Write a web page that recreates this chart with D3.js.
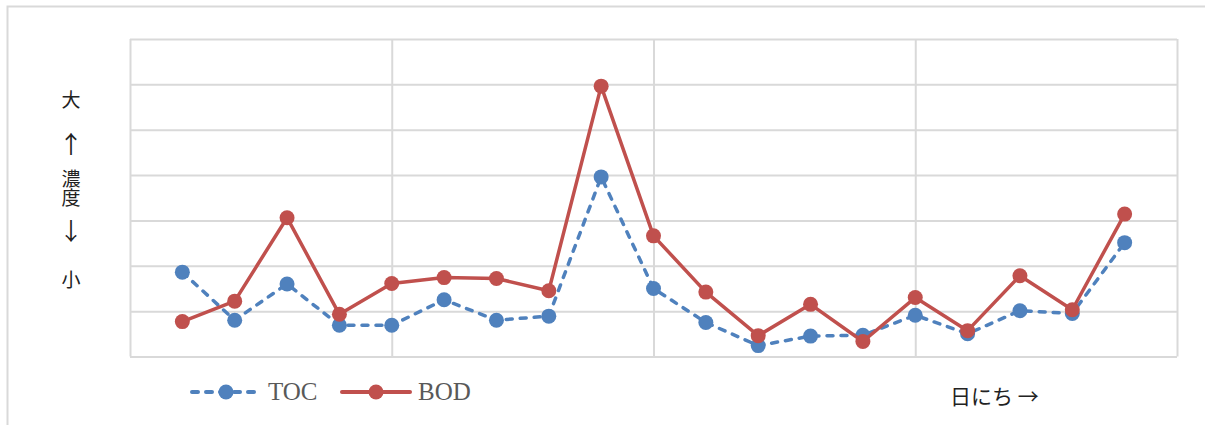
<!DOCTYPE html>
<html>
<head>
<meta charset="utf-8">
<script src="https://cdn.jsdelivr.net/npm/d3@7"></script>
<style>
  body { margin: 0; background: #fff; }
  svg { display: block; }
</style>
</head>
<body>
<script>
// Data (relative concentration)
const days = [1, 2, 3, 4, 5, 6, 7, 8, 9, 10, 11, 12, 13, 14, 15, 16, 17, 18, 19];
const toc = [1.86, 0.80, 1.60, 0.69, 0.69, 1.25, 0.80, 0.89, 3.96, 1.50, 0.75, 0.24, 0.45, 0.47, 0.91, 0.50, 1.01, 0.95, 2.51];
const bod = [0.77, 1.22, 3.06, 0.93, 1.61, 1.74, 1.72, 1.45, 5.96, 2.66, 1.42, 0.46, 1.15, 0.33, 1.30, 0.57, 1.78, 1.03, 3.14];
const xTicks = [0, 5, 10, 15, 20];
const yTicks = [0, 1, 2, 3, 4, 5, 6, 7];
const seriesNames = ["TOC", "BOD"];

const W = 1205, H = 425;
const svg = d3.select("body").append("svg")
    .attr("width", W)
    .attr("height", H);

// outer chart border
svg.append("rect")
    .attr("x", 7.5).attr("y", 6.5)
    .attr("width", W + 10).attr("height", H + 10)
    .attr("fill", "#fff")
    .attr("stroke", "#d9d9d9")
    .attr("stroke-width", 2);

const plot = { left: 130, top: 39, right: 1177, bottom: 356.5 };

const x = d3.scaleLinear()
    .domain([0, 20])
    .range([plot.left, plot.right]);

const y = d3.scaleLinear()
    .domain([0, 7])
    .range([plot.bottom, plot.top]);

const grid = svg.append("g").attr("class", "grid");

// horizontal grid
grid.append("g")
    .attr("transform", "translate(" + plot.left + ",0)")
    .call(d3.axisLeft(y).tickValues(yTicks).tickSize(-(plot.right - plot.left)).tickFormat(""))
    .call(g => g.select(".domain").remove())
    .call(g => g.selectAll("line").attr("stroke", "#d9d9d9").attr("stroke-width", 2));

// vertical grid
grid.append("g")
    .attr("transform", "translate(0," + plot.bottom + ")")
    .call(d3.axisBottom(x).tickValues(xTicks).tickSize(-(plot.bottom - plot.top)).tickFormat(""))
    .call(g => g.select(".domain").remove())
    .call(g => g.selectAll("line").attr("stroke", "#d9d9d9").attr("stroke-width", 2));

const line = d3.line()
    .x((d, i) => x(days[i]))
    .y(d => y(d));

const series = [
    { name: seriesNames[0], values: toc, color: "#4f81bd", dash: "6,8" },
    { name: seriesNames[1], values: bod, color: "#c0504d", dash: null }
];

series.forEach(s => {
    svg.append("path")
        .datum(s.values)
        .attr("d", line)
        .attr("fill", "none")
        .attr("stroke", s.color)
        .attr("stroke-width", 3.5)
        .attr("stroke-dasharray", s.dash)
        .attr("stroke-linecap", s.dash ? "round" : "butt")
        .attr("stroke-linejoin", "round");
    svg.append("g")
        .selectAll("circle")
        .data(s.values)
        .join("circle")
        .attr("cx", (d, i) => x(days[i]))
        .attr("cy", d => y(d))
        .attr("r", 7.5)
        .attr("fill", s.color);
});

// legend
const legend = svg.append("g").attr("transform", "translate(192,392)");
series.forEach((s, i) => {
    const lg = legend.append("g").attr("transform", "translate(" + (i * 150) + ",0)");
    lg.append("line")
        .attr("x1", 0).attr("x2", 68)
        .attr("y1", 0).attr("y2", 0)
        .attr("stroke", s.color)
        .attr("stroke-width", 4)
        .attr("stroke-linecap", "round")
        .attr("stroke-dasharray", s.dash ? "6,8" : null);
    lg.append("circle")
        .attr("cx", 34).attr("cy", 0).attr("r", 7.5)
        .attr("fill", s.color);
    lg.append("text")
        .attr("x", 76).attr("y", 8)
        .attr("font-family", "'Liberation Serif', 'DejaVu Serif', serif")
        .attr("font-size", "25px")
        .attr("fill", "#595959")
        .text(s.name);
});

// y axis label, stacked vertically
const yLabel = [
    { t: "大", y: 100, v: false, fs: 19 },
    { t: "↑", y: 145, v: false, fs: 24 },
    { t: "濃度", y: 188, v: true, fs: 19 },
    { t: "↓", y: 232, v: false, fs: 24 },
    { t: "小", y: 280, v: false, fs: 19 }
];
svg.append("g")
    .selectAll("text")
    .data(yLabel)
    .join("text")
    .attr("x", 71)
    .attr("y", d => d.y)
    .attr("dy", d => d.v ? null : "0.35em")
    .attr("text-anchor", "middle")
    .style("writing-mode", d => d.v ? "vertical-rl" : null)
    .attr("font-family", "'Noto Sans CJK JP', sans-serif")
    .attr("font-size", d => d.fs + "px")
    .attr("fill", "#222")
    .text(d => d.t);

// x axis label
svg.append("text")
    .attr("x", 950)
    .attr("y", 397)
    .attr("dy", "0.35em")
    .attr("font-family", "'Noto Sans CJK JP', sans-serif")
    .attr("font-size", "21px")
    .attr("fill", "#222")
    .text("日にち →");
</script>
</body>
</html>
